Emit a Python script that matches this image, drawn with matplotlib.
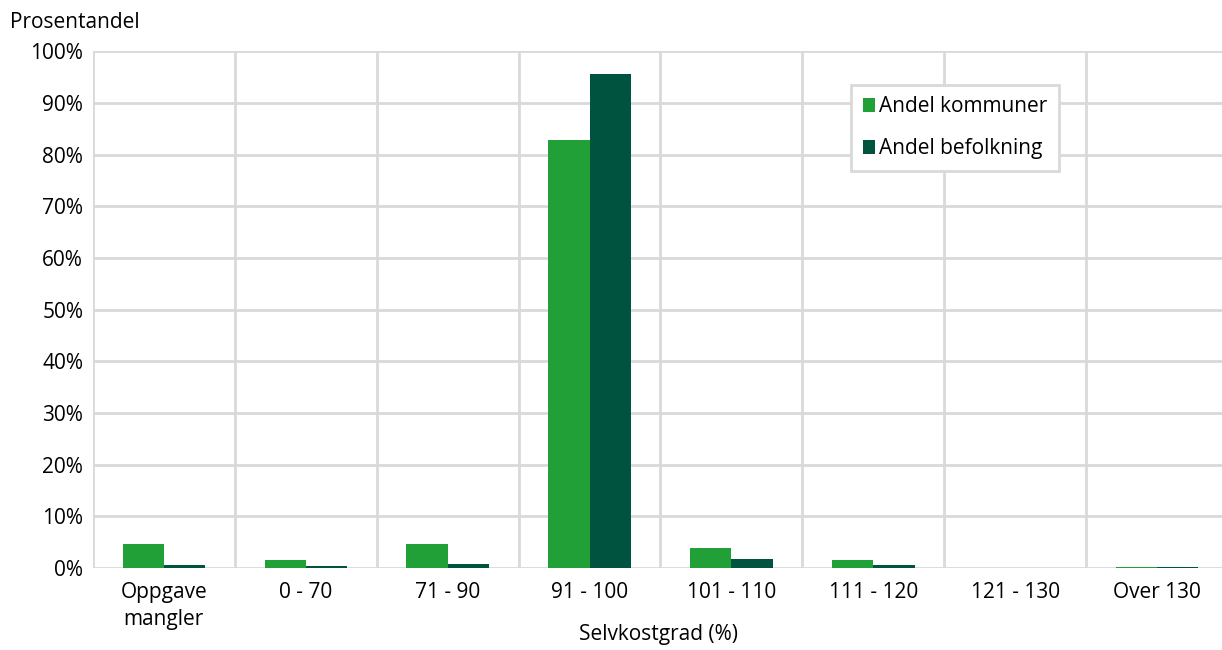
import matplotlib.pyplot as plt
import numpy as np

plt.rcParams['font.family'] = ['Open Sans', 'DejaVu Sans']

categories = ["Oppgave\nmangler", "0 - 70", "71 - 90", "91 - 100", "101 - 110", "111 - 120", "121 - 130", "Over 130"]
andel_kommuner = [4.7, 1.6, 4.7, 82.8, 3.9, 1.6, 0.0, 0.3]
andel_befolkning = [0.6, 0.4, 0.8, 95.6, 1.7, 0.6, 0.0, 0.15]

green = "#21a038"
dark = "#00543f"
grid = "#d9d9d9"

fig = plt.figure(figsize=(12.22, 6.5), dpi=100)
ax = fig.add_axes([0.076, 0.126, 0.929, 0.795])

x = np.arange(len(categories))
w = 0.29
ax.bar(x - w / 2, andel_kommuner, w, color=green, label="Andel kommuner", zorder=5)
ax.bar(x + w / 2, andel_befolkning, w, color=dark, label="Andel befolkning", zorder=5)

ax.set_xlim(-0.5, len(categories) - 0.5)
ax.set_ylim(0, 100)
ax.set_yticks(range(0, 101, 10))
ax.set_yticklabels([f"{v}%" for v in range(0, 101, 10)], fontsize=15)
ax.set_xticks(x)
ax.set_xticklabels(categories, fontsize=15, linespacing=1.4)
ax.tick_params(axis="y", length=0, pad=7)
ax.tick_params(axis="x", length=0, pad=10)

# Excel-like grid: vertical lines between categories
for b in np.arange(-0.5, len(categories), 1):
    ax.axvline(b, color=grid, lw=2, zorder=1)
ax.yaxis.grid(True, color=grid, lw=2, zorder=1)
for s in ax.spines.values():
    s.set_visible(False)
ax.axhline(-0.3, color=grid, lw=2.5, zorder=4)

fig.text(0.539, 0.024, "Selvkostgrad (%)", fontsize=15, ha="center", va="center")
fig.text(0.008, 0.966, "Prosentandel", fontsize=15, ha="left", va="center")

leg = ax.legend(loc="upper left", bbox_to_anchor=(0.668, 0.935), fontsize=15,
                handlelength=0.6, handleheight=0.6, handletextpad=0.2,
                labelspacing=1.0, borderpad=0.55, borderaxespad=0,
                fancybox=False, framealpha=1)
leg.get_frame().set_edgecolor(grid)
leg.get_frame().set_linewidth(2)

fig.savefig("out.png", dpi=100)
